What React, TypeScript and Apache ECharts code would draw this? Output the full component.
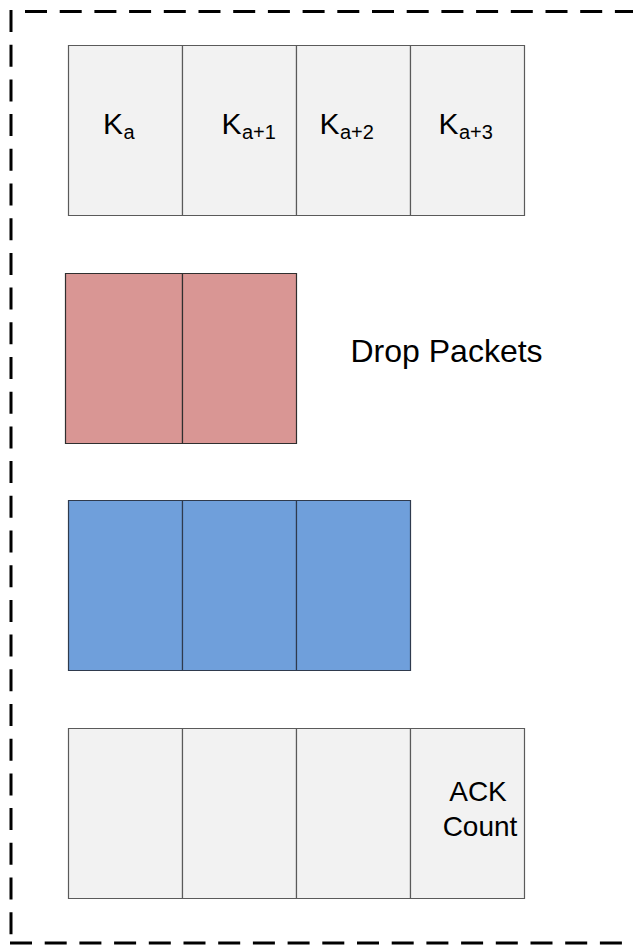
import React, { useEffect, useRef } from "react";
import * as echarts from "echarts";

// ---- data ----
const ROW_CELL_COUNTS = [4, 2, 3, 4];
const ROW_FILLS = ["#f2f2f2", "#d99694", "#6f9fdb", "#f2f2f2"];
const ROW_STROKES = ["#5a5a5a", "#2f2f2f", "#2f3a4d", "#5a5a5a"];
const KEY_SUBSCRIPTS = ["a", "a+1", "a+2", "a+3"];
const DROP_LABEL = "Drop Packets";
const ACK_LABEL = ["ACK", "Count"];

const FONT = "'Liberation Sans', Arial, Helvetica, sans-serif";

export default function App() {
  const ref = useRef<HTMLDivElement>(null);

  useEffect(() => {
    if (!ref.current) return;
    const chart = echarts.init(ref.current, null, { renderer: "svg" });

    const cells: number[][] = [];
    ROW_CELL_COUNTS.forEach((n, r) => {
      for (let c = 0; c < n; c++) cells.push([c, r]);
    });

    const PITCH = 227.67;
    const BOX_H = 170 / PITCH;
    const Y_MAX = 3 + BOX_H;

    // key labels (K with subscripts)
    const kPos = [
      { kx: 103, sx: 123.5 },
      { kx: 221.5, sx: 242 },
      { kx: 319.5, sx: 340 },
      { kx: 438.5, sx: 459 },
    ];
    const keyTexts: any[] = [];
    KEY_SUBSCRIPTS.forEach((s, i) => {
      keyTexts.push({
        type: "text",
        z: 100,
        x: kPos[i].kx,
        y: 134.3 - 0.3465 * 30,
        style: {
          text: "K",
          fill: "#000",
          font: `30px ${FONT}`,
          align: "left",
          verticalAlign: "middle",
        },
      });
      keyTexts.push({
        type: "text",
        z: 100,
        x: kPos[i].sx,
        y: 139 - 0.3465 * 20,
        style: {
          text: s,
          fill: "#000",
          font: `20px ${FONT}`,
          align: "left",
          verticalAlign: "middle",
        },
      });
    });

    const dash = [22, 12.7];

    chart.setOption({
      animation: false,
      backgroundColor: "#ffffff",
      grid: { left: 68, top: 45, width: 456, height: 3 * PITCH + 170, containLabel: false },
      xAxis: { type: "value", min: 0, max: 4, show: false },
      yAxis: { type: "value", min: 0, max: Y_MAX, inverse: true, show: false },
      series: [
        {
          type: "custom",
          clip: false,
          z: 2,
          data: cells,
          renderItem: (params: any, api: any) => {
            const c = api.value(0);
            const r = api.value(1);
            const p0 = api.coord([c, r]);
            const p1 = api.coord([c + 1, r + BOX_H]);
            let x0 = Math.round(p0[0]) + 0.5;
            const y0 = Math.round(p0[1]) + 0.5;
            const x1 = Math.round(p1[0]) + 0.5;
            const y1 = Math.round(p1[1]) + 0.5;
            if (r === 1 && c === 0) x0 -= 3;
            return {
              type: "rect",
              shape: { x: x0, y: y0, width: x1 - x0, height: y1 - y0 },
              style: {
                fill: ROW_FILLS[r],
                stroke: ROW_STROKES[r],
                lineWidth: 1.2,
              },
            };
          },
        },
      ],
      graphic: [
        {
          type: "line",
          z: 100,
          shape: { x1: 25, y1: 11.5, x2: 680, y2: 11.5 },
          style: { stroke: "#000", lineWidth: 3, lineDash: dash },
        },
        {
          type: "line",
          z: 100,
          shape: { x1: 11, y1: 10, x2: 11, y2: 944 },
          style: { stroke: "#000", lineWidth: 3, lineDash: dash },
        },
        {
          type: "line",
          z: 100,
          shape: { x1: 10, y1: 943, x2: 680, y2: 943 },
          style: { stroke: "#000", lineWidth: 3, lineDash: dash },
        },
        ...keyTexts,
        {
          type: "text",
          z: 100,
          x: 350.5,
          y: 361.7 - 0.3465 * 32,
          style: {
            text: DROP_LABEL,
            fill: "#000",
            font: `32px ${FONT}`,
            align: "left",
            verticalAlign: "middle",
          },
        },
        {
          type: "text",
          z: 100,
          x: 478,
          y: 801 - 0.3465 * 28,
          style: {
            text: ACK_LABEL[0],
            fill: "#000",
            font: `28px ${FONT}`,
            align: "center",
            verticalAlign: "middle",
          },
        },
        {
          type: "text",
          z: 100,
          x: 480,
          y: 836 - 0.3465 * 28,
          style: {
            text: ACK_LABEL[1],
            fill: "#000",
            font: `28px ${FONT}`,
            align: "center",
            verticalAlign: "middle",
          },
        },
      ],
    });

    return () => chart.dispose();
  }, []);

  return (
    <div
      ref={ref}
      style={{ position: "fixed", left: 0, top: 0, width: 633, height: 946 }}
    />
  );
}
